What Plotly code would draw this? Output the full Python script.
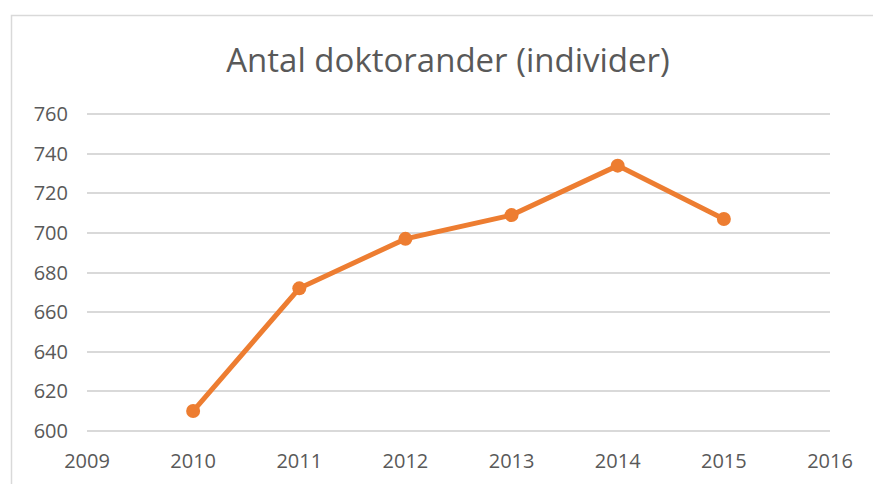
import plotly.graph_objects as go

years = [2010, 2011, 2012, 2013, 2014, 2015]
values = [610, 672, 697, 709, 734, 707]
title_text = "Antal doktorander (individer)"

W, H = 873, 484
ppu = 317 / 160.0  # pixels per unit on y
pad = 0.6
L, R = 87, 43
T = int(round(114 - pad * ppu))
B = int(round(484 - 431 - pad * ppu))
pw, ph = W - L - R, H - T - B

fig = go.Figure()
fig.add_trace(go.Scatter(
    x=years, y=values, mode="lines+markers",
    line=dict(color="#ED7D31", width=5),
    marker=dict(color="#ED7D31", size=14),
    hoverinfo="x+y",
))

font = "Open Sans, Noto Sans, sans-serif"
fig.update_layout(
    width=W, height=H,
    margin=dict(l=L, r=R, t=T, b=B, autoexpand=False),
    paper_bgcolor="white", plot_bgcolor="white",
    showlegend=False,
    title=dict(text=title_text, x=448 / W, xanchor="center",
               y=1 - 60 / H, yanchor="middle",
               font=dict(family=font, size=33, color="#595959")),
    xaxis=dict(range=[2009, 2016], tickmode="linear", tick0=2009, dtick=1,
               showgrid=False, zeroline=False, showline=False, automargin=False,
               ticks="", ticklabelstandoff=15,
               tickfont=dict(family=font, size=20, color="#595959")),
    yaxis=dict(range=[600 - pad, 760 + pad], tickmode="linear", tick0=600, dtick=20,
               showgrid=True, gridcolor="#D9D9D9", gridwidth=1.5, automargin=False,
               zeroline=False, showline=False, ticks="", ticklabelstandoff=18,
               tickfont=dict(family=font, size=20, color="#595959")),
    shapes=[dict(type="rect", xref="paper", yref="paper",
                 x0=(11.5 - L) / pw, x1=(890 - L) / pw,
                 y0=(H - B - 500) / ph, y1=(H - B - 15.5) / ph,
                 line=dict(color="#D9D9D9", width=1.5), fillcolor="rgba(0,0,0,0)",
                 layer="below")],
)
fig.write_html("out.html", config={"displayModeBar": False},
               post_script="document.body.style.margin='0';")
